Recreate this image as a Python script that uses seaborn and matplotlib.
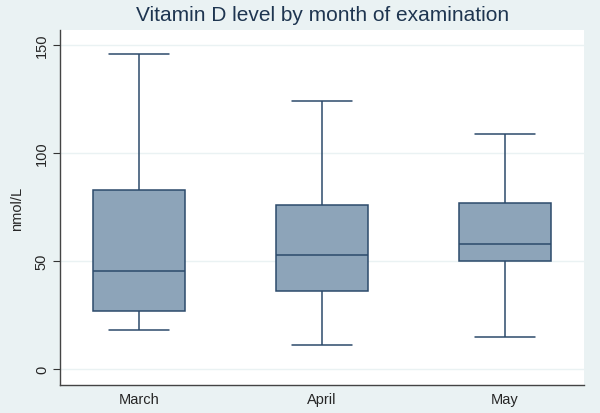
import pandas as pd
import matplotlib
matplotlib.use("Agg")
import matplotlib.pyplot as plt
import seaborn as sns

# five-number summaries (min, q1, median, q3, max)
months = ["March", "April", "May"]
march = [18, 27, 45.5, 83, 146]
april = [11, 36, 53, 76, 124]
may = [15, 50, 58, 77, 109]
yticks = [0, 50, 100, 150]

df = pd.DataFrame({
    "month": [m for m, vals in zip(months, [march, april, may]) for _ in vals],
    "value": march + april + may,
})

bg = "#eaf2f3"
edge = "#2c4a6b"
fill = "#8da4b9"

sns.set_style("white")
plt.rcParams["font.family"] = ["Liberation Sans", "DejaVu Sans"]

fig = plt.figure(figsize=(6, 4.14), dpi=100, facecolor=bg)
ax = fig.add_axes([0.1, 0.0676, 0.873, 0.8574])

sns.boxplot(data=df, x="month", y="value", order=months, ax=ax,
            whis=(0, 100), width=0.5, color=fill, saturation=1,
            linecolor=edge, linewidth=1.1, capwidths=0.33,
            medianprops={"color": edge, "linewidth": 1.1})

ax.set_ylim(-7.4, 157)
ax.set_xlim(-0.43, 2.43)
ax.set_yticks(yticks)
ax.set_yticklabels([str(t) for t in yticks], rotation=90, va="center", fontsize=10.5)
ax.tick_params(axis="y", length=5, width=0.8, color="#333333", pad=3, left=True)
ax.tick_params(axis="x", length=0, labelsize=10.5, pad=5)
ax.yaxis.grid(True, color=bg, linewidth=1)
ax.set_axisbelow(True)
for s in ["top", "right"]:
    ax.spines[s].set_visible(False)
for s in ["left", "bottom"]:
    ax.spines[s].set_color("#444444")
    ax.spines[s].set_linewidth(1)

ax.set_xlabel("")
ax.set_ylabel("nmol/L", fontsize=10.5, labelpad=8)
fig.text(0.537, 0.963, "Vitamin D level by month of examination",
         ha="center", va="center", fontsize=15, color="#1e3550")

fig.savefig("out.png", dpi=100, facecolor=bg)
